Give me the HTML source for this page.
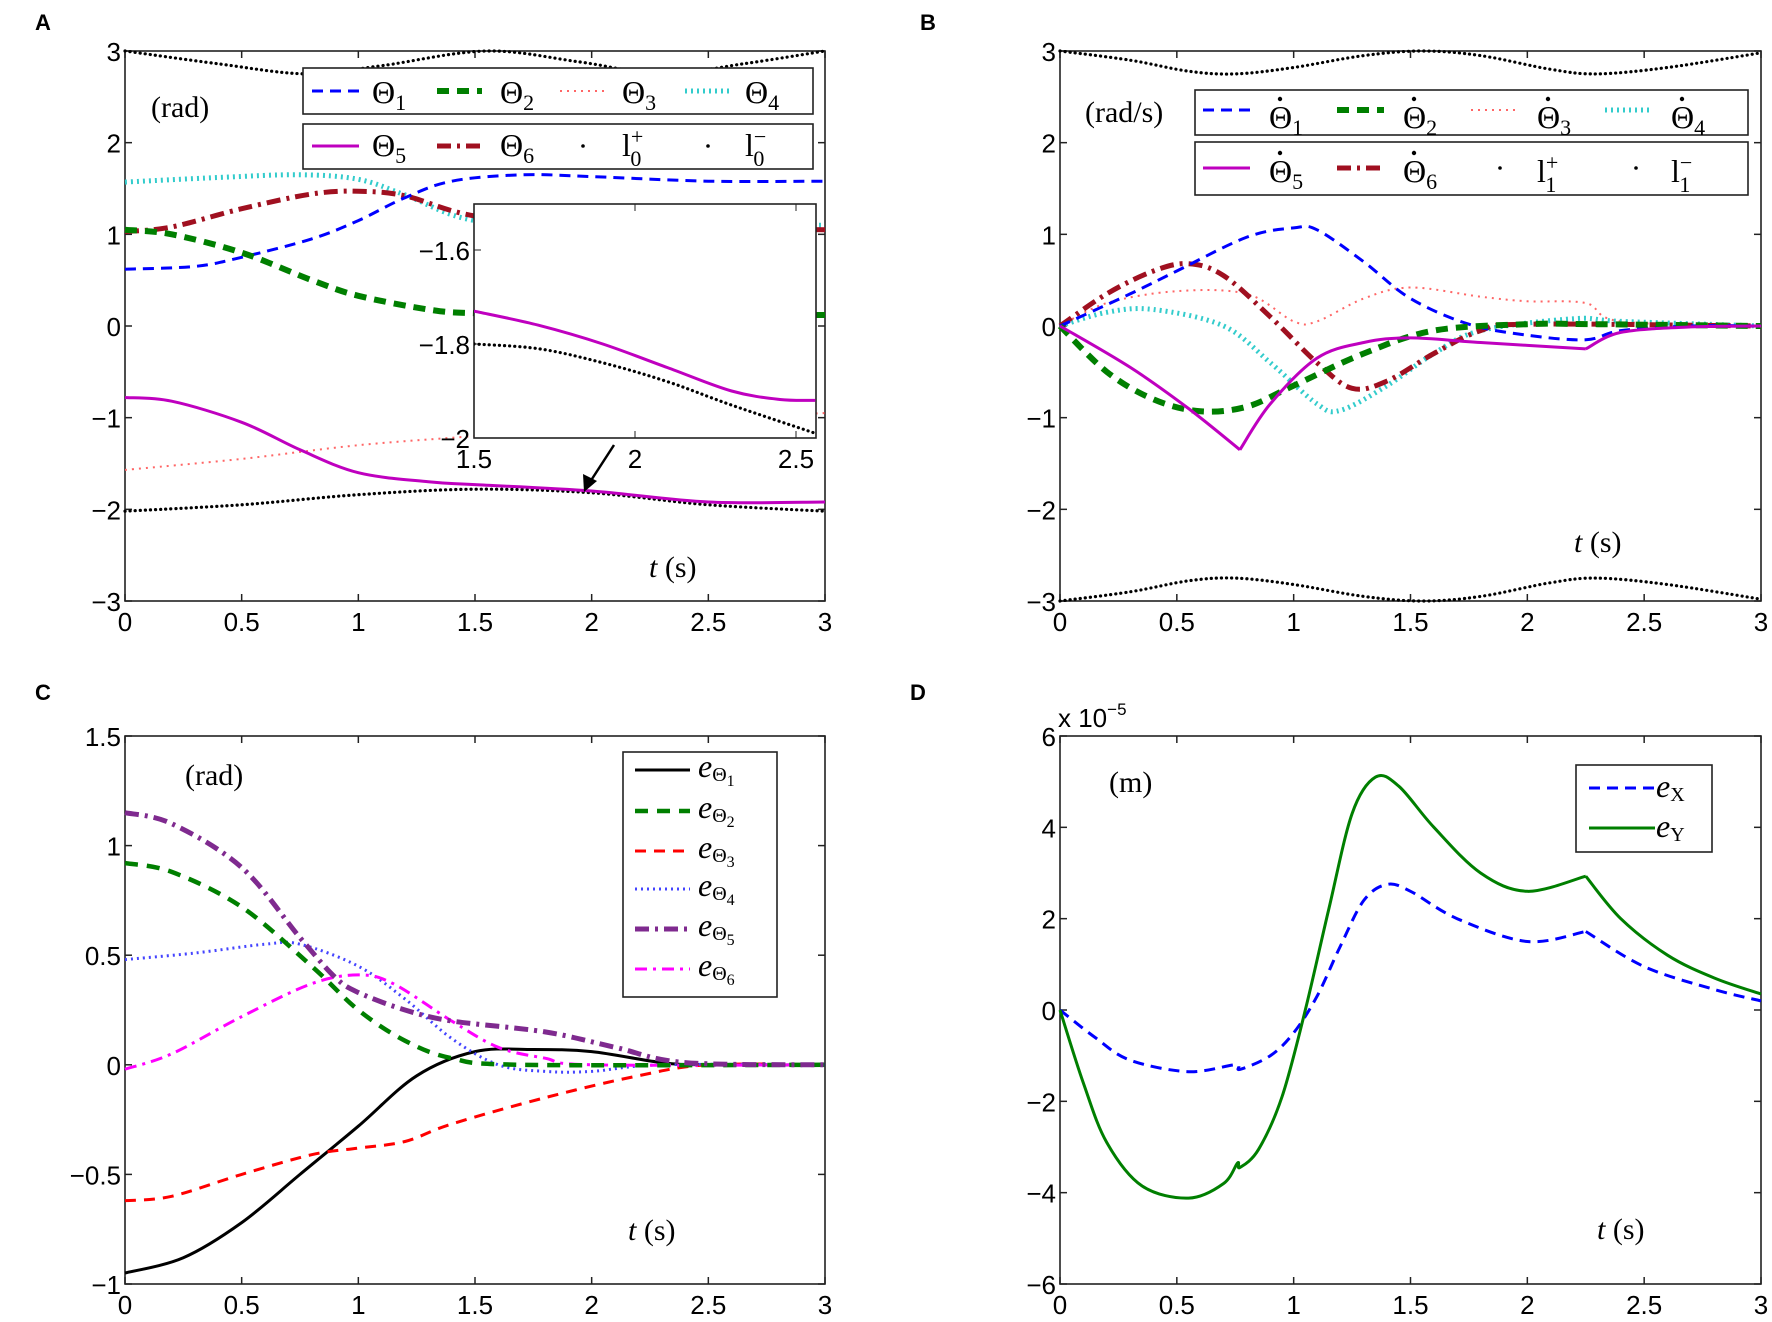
<!DOCTYPE html>
<html><head><meta charset="utf-8"><style>
body{margin:0;background:#fff;}
svg{display:block;font-family:"Liberation Sans",sans-serif;}
.tk{font-size:26px;fill:#000;}
.sf{font-family:"Liberation Serif",serif;}
</style></head><body>
<svg id="s" width="1772" height="1322" xmlns="http://www.w3.org/2000/svg"></svg>
<script>
const S=document.getElementById('s');let H='';
function P(x0,x1,y0,y1,v0,v1){return{X:t=>x0+(x1-x0)*t/3,Y:v=>y0+(y1-y0)*(v1-v)/(v1-v0)};}
function spline(pts,ax){let p=pts.map(q=>[ax.X(q[0]),ax.Y(q[1])]);let d='M'+p[0][0].toFixed(1)+','+p[0][1].toFixed(1);
for(let i=0;i<p.length-1;i++){let a=p[i-1]||p[i],b=p[i],c=p[i+1],e=p[i+2]||c;
let c1=[b[0]+(c[0]-a[0])/6,b[1]+(c[1]-a[1])/6],c2=[c[0]-(e[0]-b[0])/6,c[1]-(e[1]-b[1])/6];
d+=`C${c1[0].toFixed(1)},${c1[1].toFixed(1)} ${c2[0].toFixed(1)},${c2[1].toFixed(1)} ${c[0].toFixed(1)},${c[1].toFixed(1)}`;}return d;}
function line(segs,ax,st,clip){let d=segs.map(s=>spline(s,ax)).join(' ');H+=`<path d="${d}" fill="none" ${st} ${clip?'clip-path="url(#'+clip+')"':''} stroke-linejoin="round"/>`;}
const ST={
blue:'stroke="#0000ff" stroke-width="3" stroke-dasharray="11,7"',
green:'stroke="#007f00" stroke-width="6" stroke-dasharray="12,8"',
red:'stroke="#ff6666" stroke-width="2" stroke-dasharray="2,5"',
cyan:'stroke="#33cccc" stroke-width="5" stroke-dasharray="2,4"',
mag:'stroke="#bf00bf" stroke-width="3"',
dred:'stroke="#a01020" stroke-width="5" stroke-dasharray="14,6,3,6"',
bnd:'stroke="#000" stroke-width="3.2" stroke-dasharray="0.1,5" stroke-linecap="round"'};
function axes(x0,x1,y0,y1,yt,ylab,xt,id){
H+=`<clipPath id="${id}"><rect x="${x0}" y="${y0}" width="${x1-x0}" height="${y1-y0}"/></clipPath>`;
H+=`<rect x="${x0}" y="${y0}" width="${x1-x0}" height="${y1-y0}" fill="none" stroke="#222" stroke-width="1.6"/>`;
yt.forEach((y,i)=>{H+=`<line x1="${x0}" x2="${x0+7}" y1="${y}" y2="${y}" stroke="#222" stroke-width="1.5"/><line x1="${x1}" x2="${x1-7}" y1="${y}" y2="${y}" stroke="#222" stroke-width="1.5"/><text class="tk" x="${x0-4}" y="${y+10}" text-anchor="end">${ylab[i]}</text>`;});
['0','0.5','1','1.5','2','2.5','3'].forEach((l,i)=>{let x=x0+(x1-x0)*i/6;H+=`<line x1="${x}" x2="${x}" y1="${y1}" y2="${y1-7}" stroke="#222" stroke-width="1.5"/><line x1="${x}" x2="${x}" y1="${y0}" y2="${y0+7}" stroke="#222" stroke-width="1.5"/><text class="tk" x="${x}" y="${y1+30}" text-anchor="middle">${l}</text>`;});}
function T(x,y,s,sz){H+=`<text class="sf" x="${x}" y="${y}" font-size="${sz||30}">${s}</text>`;}
const M='−';
// ---- A
let A=P(125,825,51,601,-3,3);
axes(125,825,51,601,[-3,-2,-1,0,1,2,3].map(A.Y),[M+'3',M+'2',M+'1','0','1','2','3'],'cA');
H+=`<text x="35" y="30" font-size="22" font-weight="bold">A</text><text x="920" y="30" font-size="22" font-weight="bold">B</text><text x="35" y="700" font-size="22" font-weight="bold">C</text><text x="910" y="700" font-size="22" font-weight="bold">D</text>`;
line([[[0,3],[0.4,2.86],[0.78,2.75],[1.1,2.84],[1.55,3],[1.95,2.88],[2.3,2.75],[2.65,2.86],[3,3]]],A,ST.bnd,'cA');
line([[[0,-2.02],[0.5,-1.95],[1,-1.84],[1.5,-1.78],[2,-1.82],[2.5,-1.95],[3,-2.02]]],A,ST.bnd,'cA');
line([[[0,-1.57],[0.5,-1.45],[1,-1.3],[1.5,-1.2],[2,-1.1],[2.5,-1.0],[3,-0.95]]],A,ST.red,'cA');
line([[[0,1.57],[0.4,1.62],[0.75,1.65],[1,1.6],[1.2,1.43],[1.5,1.15],[2,1.1],[3,1.1]]],A,ST.cyan,'cA');
line([[[0,1.03],[0.2,1.08],[0.5,1.28],[0.8,1.44],[1,1.47],[1.2,1.42],[1.5,1.2],[2,1.08],[3,1.05]]],A,ST.dred,'cA');
line([[[0,0.62],[0.3,0.65],[0.5,0.75],[0.8,0.95],[1,1.15],[1.2,1.4],[1.4,1.58],[1.7,1.65],[2,1.63],[2.5,1.58],[3,1.58]]],A,ST.blue,'cA');
line([[[0,1.05],[0.2,1.0],[0.5,0.8],[0.8,0.5],[1,0.33],[1.3,0.18],[1.5,0.14],[2,0.12],[3,0.12]]],A,ST.green,'cA');
line([[[0,-0.78],[0.2,-0.82],[0.5,-1.05],[0.75,-1.35],[1,-1.6],[1.3,-1.7],[1.5,-1.73],[2,-1.8],[2.5,-1.92],[3,-1.92]]],A,ST.mag,'cA');
// inset
H+=`<rect x="474" y="204" width="342" height="234" fill="#fff" stroke="#222" stroke-width="1.6"/>`;
let I={X:t=>474+(t-1.5)*322,Y:v=>438-(v+2)*470};
[[-1.6],[-1.8],[-2]].forEach(a=>{let y=I.Y(a[0]);H+=`<line x1="474" x2="481" y1="${y}" y2="${y}" stroke="#222"/><text class="tk" x="470" y="${y+10}" text-anchor="end">${M}${(-a[0]).toString()}</text>`;});
[1.5,2,2.5].forEach(t=>{let x=I.X(t);H+=`<line x1="${x}" x2="${x}" y1="438" y2="431" stroke="#222"/><line x1="${x}" x2="${x}" y1="204" y2="211" stroke="#222"/><text class="tk" x="${x}" y="468" text-anchor="middle">${t}</text>`;});
H+=`<clipPath id="cI"><rect x="474" y="204" width="342" height="234"/></clipPath>`;
{let d1=[[1.5,-1.8],[1.7,-1.81],[1.9,-1.84],[2.1,-1.88],[2.3,-1.93],[2.56,-1.99]],d2=[[1.5,-1.73],[1.7,-1.76],[1.9,-1.8],[2.1,-1.85],[2.3,-1.9],[2.45,-1.918],[2.56,-1.92]];
H+=`<path d="${spline(d1,I)}" fill="none" ${ST.bnd} clip-path="url(#cI)"/>`;
H+=`<path d="${spline(d2,I)}" fill="none" ${ST.mag} clip-path="url(#cI)"/>`;}
H+=`<line x1="614" y1="445" x2="590" y2="482" stroke="#000" stroke-width="2.5"/><polygon points="584,492 583,474 597,481" fill="#000"/>`;
function leg(x,y,w,h){H+=`<rect x="${x}" y="${y}" width="${w}" height="${h}" fill="#fff" stroke="#222" stroke-width="1.6"/>`;}
function samp(x1,x2,y,st){H+=`<line x1="${x1}" x2="${x2}" y1="${y}" y2="${y}" ${st}/>`;}
function th(x,y,n,dot){H+=`<text class="sf" x="${x}" y="${y}" font-size="32">Θ<tspan font-size="22" dy="7">${n}</tspan></text>`;if(dot)H+=`<circle cx="${x+11}" cy="${y-29}" r="2.2" fill="#000"/>`;}
function ll(x,y,n,sg){H+=`<text class="sf" x="${x}" y="${y}" font-size="32">l<tspan font-size="22" dy="-12">${sg}</tspan><tspan font-size="22" dx="-13" dy="22">${n}</tspan></text>`;}
leg(303,68,510,46);leg(303,124,510,45);
samp(312,359,91,ST.blue);th(372,103,1);samp(437,482,91,ST.green);th(500,103,2);samp(560,605,91,ST.red);th(622,103,3);samp(685,730,91,ST.cyan);th(745,103,4);
samp(312,359,146,ST.mag);th(372,156,5);samp(437,482,146,ST.dred);th(500,156,6);H+=`<circle cx="583" cy="146" r="1.8"/>`;ll(622,156,'0','+');H+=`<circle cx="708" cy="146" r="1.8"/>`;ll(745,156,'0',M);
T(151,117,'(rad)');T(649,577,'<tspan font-style="italic">t</tspan> (s)');
// ---- B
let B=P(1060,1761,51,601,-3,3);
axes(1060,1761,51,601,[-3,-2,-1,0,1,2,3].map(B.Y),[M+'3',M+'2',M+'1','0','1','2','3'],'cB');
let ub=[[0,3],[0.3,2.9],[0.55,2.78],[0.75,2.75],[1,2.82],[1.3,2.95],[1.55,3],[1.8,2.95],[2.1,2.8],[2.3,2.75],[2.6,2.82],[3,2.98]];
line([ub],B,ST.bnd,'cB');line([ub.map(p=>[p[0],-p[1]])],B,ST.bnd,'cB');
line([[[0,0],[0.2,0.25],[0.5,0.38],[0.8,0.35],[1,0.05],[1.1,0.05],[1.3,0.3],[1.5,0.42],[1.8,0.32],[2,0.27],[2.25,0.25],[2.4,0.05],[3,0]]],B,ST.red,'cB');
line([[[0,0],[0.2,0.15],[0.4,0.18],[0.7,0],[0.9,-0.4],[1.1,-0.85],[1.2,-0.92],[1.4,-0.65],[1.6,-0.3],[1.8,-0.05],[2.2,0.08],[2.4,0.05],[3,0]]],B,ST.cyan,'cB');
line([[[0,0],[0.2,0.35],[0.4,0.6],[0.55,0.68],[0.7,0.55],[0.9,0.1],[1.1,-0.4],[1.25,-0.68],[1.4,-0.6],[1.6,-0.3],[1.8,-0.05],[2,0.02],[3,0]]],B,ST.dred,'cB');
line([[[0,0],[0.3,0.35],[0.5,0.6],[0.8,0.97],[1,1.07],[1.1,1.05],[1.3,0.7],[1.5,0.3],[1.75,0.02],[2,-0.1],[2.25,-0.15],[2.4,-0.05],[2.7,0],[3,0]]],B,ST.blue,'cB');
line([[[0,0],[0.2,-0.5],[0.4,-0.8],[0.6,-0.93],[0.8,-0.88],[1,-0.65],[1.3,-0.3],[1.6,-0.05],[2,0.02],[2.3,0.02],[3,0]]],B,ST.green,'cB');
line([[[0,0],[0.3,-0.45],[0.55,-0.9],[0.77,-1.35]],[[0.77,-1.35],[0.9,-0.85],[1.1,-0.35],[1.3,-0.18],[1.5,-0.13],[1.8,-0.18],[2.25,-0.25]],[[2.25,-0.25],[2.4,-0.07],[2.7,-0.01],[3,0]]],B,ST.mag,'cB');
leg(1195,90,553,45);leg(1195,142,553,53);
samp(1203,1250,110,ST.blue);th(1269,128,1,1);samp(1337,1384,110,ST.green);th(1403,128,2,1);samp(1471,1518,110,ST.red);th(1537,128,3,1);samp(1605,1652,110,ST.cyan);th(1671,128,4,1);
samp(1203,1250,168,ST.mag);th(1269,182,5,1);samp(1337,1384,168,ST.dred);th(1403,182,6,1);H+=`<circle cx="1500" cy="168" r="1.8"/>`;ll(1537,182,'1','+');H+=`<circle cx="1636" cy="168" r="1.8"/>`;ll(1671,182,'1',M);
T(1085,122,'(rad/s)');T(1574,552,'<tspan font-style="italic">t</tspan> (s)');
// ---- C
let C=P(125,825,736,1284,-1,1.5);
axes(125,825,736,1284,[-1,-0.5,0,0.5,1,1.5].map(C.Y),[M+'1',M+'0.5','0','0.5','1','1.5'],'cC');
const CS={k:'stroke="#000" stroke-width="3"',g:'stroke="#007f00" stroke-width="4.5" stroke-dasharray="13,9"',r:'stroke="#ff0000" stroke-width="3" stroke-dasharray="11,8"',b:'stroke="#4444ff" stroke-width="3" stroke-dasharray="2,4"',p:'stroke="#7f2a8f" stroke-width="5" stroke-dasharray="14,6,3,6"',m:'stroke="#ff00ff" stroke-width="3" stroke-dasharray="12,6,3,6"'};
line([[[0,-0.95],[0.25,-0.88],[0.5,-0.72],[0.75,-0.5],[1,-0.28],[1.25,-0.05],[1.5,0.06],[1.75,0.07],[2,0.06],[2.3,0.01],[2.5,0],[3,0]]],C,CS.k,'cC');
line([[[0,-0.62],[0.2,-0.6],[0.5,-0.5],[0.8,-0.41],[1,-0.38],[1.2,-0.35],[1.4,-0.27],[1.8,-0.15],[2.2,-0.05],[2.5,0],[3,0]]],C,CS.r,'cC');
line([[[0,0.48],[0.3,0.51],[0.6,0.55],[0.75,0.55],[1,0.45],[1.2,0.3],[1.4,0.12],[1.6,0.0],[1.8,-0.03],[2,-0.03],[2.3,0],[3,0]]],C,CS.b,'cC');
line([[[0,-0.02],[0.2,0.05],[0.5,0.22],[0.8,0.37],[1,0.41],[1.15,0.37],[1.4,0.2],[1.6,0.08],[1.8,0.03],[2,0],[3,0]]],C,CS.m,'cC');
line([[[0,0.92],[0.2,0.88],[0.5,0.72],[0.8,0.45],[1,0.25],[1.2,0.11],[1.4,0.03],[1.7,0],[3,0]]],C,CS.g,'cC');
line([[[0,1.15],[0.2,1.1],[0.5,0.9],[0.75,0.58],[0.9,0.4],[1,0.33],[1.2,0.25],[1.4,0.2],[1.8,0.15],[2.1,0.08],[2.4,0.01],[3,0]]],C,CS.p,'cC');
leg(623,752,154,245);
[['k',777],['g',818],['r',858],['b',896],['p',936],['m',976]].forEach((a,i)=>{samp(635,690,a[1]-7,CS[a[0]]);H+=`<text class="sf" x="698" y="${a[1]}" font-size="32" font-style="italic">e<tspan font-style="normal" font-size="20" dy="4">Θ</tspan><tspan font-style="normal" font-size="16" dy="5">${i+1}</tspan></text>`;});
T(185,785,'(rad)');T(628,1240,'<tspan font-style="italic">t</tspan> (s)');
// ---- D
let D=P(1060,1761,736,1284,-6,6);
axes(1060,1761,736,1284,[-6,-4,-2,0,2,4,6].map(D.Y),[M+'6',M+'4',M+'2','0','2','4','6'],'cD');
line([[[0,0],[0.15,-0.6],[0.3,-1.1],[0.55,-1.35],[0.75,-1.2],[0.77,-1.3],[0.9,-1.0],[1,-0.5],[1.1,0.3],[1.2,1.4],[1.3,2.4],[1.4,2.75],[1.5,2.6],[1.7,2.0],[2,1.5],[2.25,1.72]],[[2.25,1.72],[2.5,0.95],[2.8,0.45],[3,0.2]]],D,'stroke="#0000ff" stroke-width="3" stroke-dasharray="11,7"','cD');
line([[[0,0],[0.1,-1.6],[0.2,-2.9],[0.35,-3.85],[0.55,-4.12],[0.7,-3.8],[0.76,-3.35],[0.77,-3.45],[0.85,-3.05],[0.95,-1.9],[1.05,0],[1.15,2.2],[1.25,4.3],[1.35,5.1],[1.45,4.9],[1.6,4.0],[1.8,3.0],[2,2.6],[2.25,2.93]],[[2.25,2.93],[2.4,2.0],[2.6,1.2],[2.8,0.7],[3,0.35]]],D,'stroke="#007f00" stroke-width="3"','cD');
leg(1576,765,136,87);
samp(1589,1655,788,'stroke="#0000ff" stroke-width="3" stroke-dasharray="11,7"');samp(1589,1655,828,'stroke="#007f00" stroke-width="3"');
H+=`<text class="sf" x="1656" y="797" font-size="32" font-style="italic">e<tspan font-style="normal" font-size="20" dy="4">X</tspan></text><text class="sf" x="1656" y="837" font-size="32" font-style="italic">e<tspan font-style="normal" font-size="20" dy="4">Y</tspan></text>`;
T(1109,792,'(m)');T(1597,1239,'<tspan font-style="italic">t</tspan> (s)');
H+=`<text class="tk" x="1058" y="727">x 10<tspan font-size="17" dy="-12">${M}5</tspan></text>`;
S.innerHTML=H;
</script>
</body></html>
